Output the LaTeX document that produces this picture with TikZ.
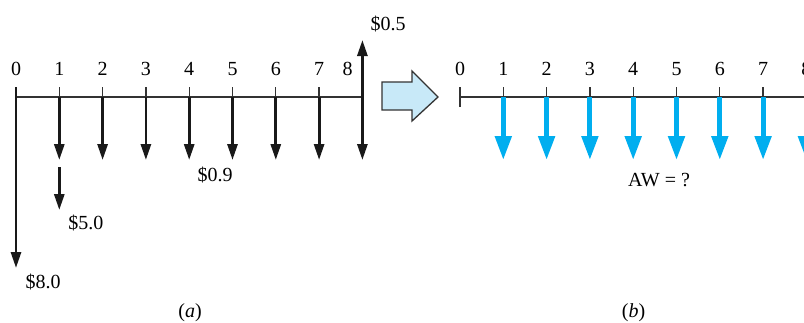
\documentclass[tikz,border=0pt]{standalone}
\usepackage{fontspec}
\setmainfont{Liberation Serif}
\usetikzlibrary{arrows.meta,positioning}
\definecolor{awblue}{HTML}{00AEEF}
\definecolor{shiftblue}{HTML}{C8E9F8}

\begin{document}
\begin{tikzpicture}[x=0.5pt,y=-0.5pt,
  axis/.style={line width=0.65pt,black!80},
  flow/.style={line width=1.4pt,black!90,-{Triangle[width=5pt,length=8pt]}},
  aflow/.style={line width=2.5pt,awblue,-{Triangle[width=8pt,length=12pt]}},
  lbl/.style={inner sep=0pt},
  yr/.style={inner sep=0pt,anchor=base}]
\clip (0,0) rectangle (804,322);
% years on both time lines
\foreach \i in {0,...,8} {
  \coordinate (a\i) at (16+43.3*\i,97);
  \coordinate (b\i) at (460+43.3*\i,97);
  \node[yr] (nb\i) at (460+43.3*\i,75) {\i};
}
\foreach \i in {0,...,7} \node[yr] (na\i) at (16+43.3*\i,75) {\i};
\node[yr] (na8) at (347.5,75) {8};
\coordinate (bend) at (830,97);
% (a) actual cash flows
\draw[axis] (a0)--(a8);
\foreach \i in {1,...,7} \draw[axis] (a\i)--++(0,-10);
\draw[flow] (a0) ++(0,-10)--++(0,181);
\foreach \i in {1,...,8} \draw[flow] (a\i)--++(0,63);
\draw[flow] (a1) ++(0,70)--++(0,43);
\draw[flow] (a8)--++(0,-57);
\node[lbl] (v05) at (388,24) {\$0.5};
\node[lbl] (v09) at (215,175) {\$0.9};
\node[lbl] (v50) at (86,223.5) {\$5.0};
\node[lbl] (v80) at (43,282.5) {\$8.0};
\node[lbl] (capa) at (190,313) {(\textit{a})};
% conversion arrow
\draw[axis,fill=shiftblue] (382,82)--(412,82)--(412,71)--(438,97)
  --(412,121)--(412,110)--(382,110)--cycle;
% (b) equivalent annual worth
\draw[axis] (b0)--(bend);
\draw[axis] (b0) ++(0,-10)--++(0,20);
\foreach \i in {1,...,8} {
  \draw[axis] (b\i)--++(0,-10);
  \draw[aflow] (b\i)--++(0,63);
}
\node[lbl] (aw) at (659,180.5) {AW = ?};
\node[lbl] (capb) at (633.5,313) {(\textit{b})};
\end{tikzpicture}
\end{document}
